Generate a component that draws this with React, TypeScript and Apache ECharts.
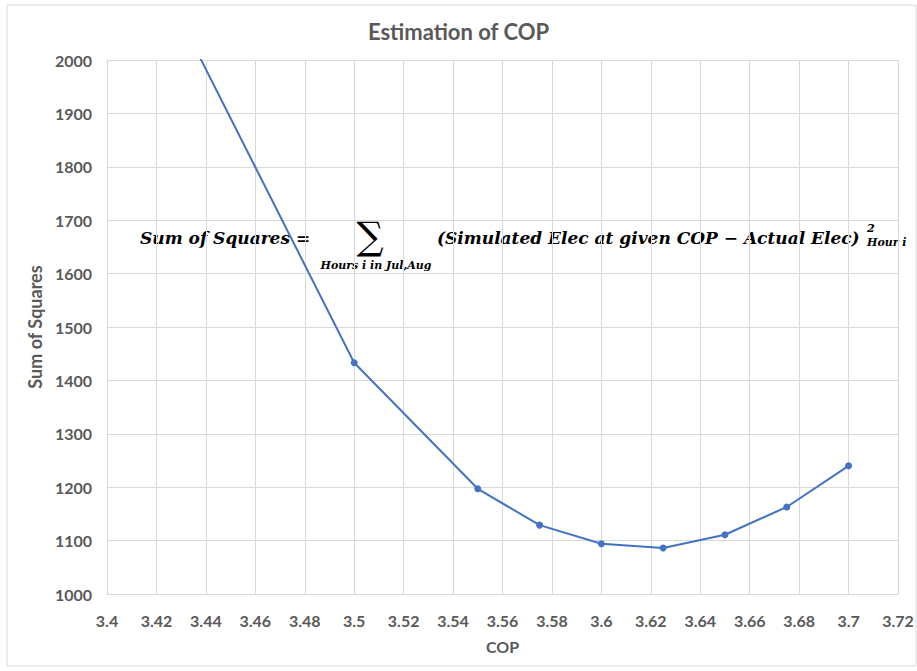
import React, { useEffect, useRef } from "react";
import * as echarts from "echarts";

const copValues = [3.4, 3.5, 3.55, 3.575, 3.6, 3.625, 3.65, 3.675, 3.7];
const sumOfSquares = [2349, 1433, 1197, 1129, 1094, 1086, 1111, 1163, 1240];

const titleText = "Estimation of COP";
const xName = "COP";
const yName = "Sum of Squares";

const GREY = "#595959";
const GRID = "#d9d9d9";
const FONT = "Lato";
const MATH = "DejaVu Serif";

export default function App() {
  const ref = useRef<HTMLDivElement>(null);
  useEffect(() => {
    document.body.style.margin = "0";
    const chart = echarts.init(ref.current!, null, { renderer: "svg" });
    const mathStyle = (text: string, size: number, extra: any = {}) => ({
      text,
      fontFamily: MATH,
      fontSize: size,
      fontWeight: "bold",
      fontStyle: "italic",
      fill: "#000",
      ...extra,
    });
    chart.setOption({
      animation: false,
      backgroundColor: "#fff",
      title: {
        text: titleText,
        left: "center",
        top: 15,
        textStyle: { fontFamily: FONT, fontSize: 22, fontWeight: "bold", color: GREY },
      },
      grid: { left: 107, top: 60, right: 19, bottom: 77, containLabel: false },
      xAxis: {
        type: "value",
        min: 3.4,
        max: 3.72,
        interval: 0.02,
        name: xName,
        nameLocation: "middle",
        nameGap: 44,
        nameTextStyle: { fontFamily: FONT, fontSize: 16, color: GREY, fontWeight: "bold" },
        axisLine: { show: true, lineStyle: { color: GRID } },
        axisTick: { show: false },
        splitLine: { show: true, lineStyle: { color: GRID } },
        axisLabel: {
          margin: 18,
          fontFamily: FONT,
          fontSize: 16,
          fontWeight: "bold",
          color: GREY,
          formatter: (v: number) => String(parseFloat(v.toFixed(2))),
        },
      },
      yAxis: {
        type: "value",
        min: 1000,
        max: 2000,
        interval: 100,
        name: yName,
        nameLocation: "middle",
        nameGap: 62,
        nameTextStyle: { fontFamily: FONT, fontSize: 18, color: GREY, fontWeight: "bold" },
        axisLine: { show: true, lineStyle: { color: GRID } },
        axisTick: { show: false },
        splitLine: { show: true, lineStyle: { color: GRID } },
        axisLabel: {
          margin: 15,
          fontFamily: FONT,
          fontSize: 16,
          fontWeight: "bold",
          color: GREY,
          formatter: (v: number) => String(v),
        },
      },
      series: [
        {
          type: "line",
          data: copValues.map((c, i) => [c, sumOfSquares[i]]),
          clip: true,
          symbol: "circle",
          symbolSize: 7,
          lineStyle: { color: "#4472C4", width: 2 },
          itemStyle: { color: "#4472C4" },
        },
      ],
      graphic: [
        {
          type: "rect",
          silent: true,
          shape: { x: 7, y: 5, width: 909, height: 661 },
          style: { fill: "none", stroke: "#d9d9d9", lineWidth: 1 },
        },
        {
          type: "text",
          x: 140,
          y: 238,
          style: mathStyle("Sum of Squares =", 17, { verticalAlign: "middle" }),
        },
        {
          type: "text",
          x: 370,
          y: 236,
          style: { text: "∑", fontFamily: MATH, fontSize: 38, fill: "#000", align: "center", verticalAlign: "middle" },
        },
        {
          type: "text",
          x: 376,
          y: 265,
          style: mathStyle("Hours i in Jul,Aug", 11, { align: "center", verticalAlign: "middle" }),
        },
        {
          type: "text",
          x: 437,
          y: 238,
          style: mathStyle("(Simulated Elec at given COP − Actual Elec)", 17, { verticalAlign: "middle" }),
        },
        {
          type: "text",
          x: 867,
          y: 235,
          style: mathStyle("2\nHour i", 11, { verticalAlign: "middle", lineHeight: 14 }),
        },
      ],
    });
    return () => chart.dispose();
  }, []);
  return <div ref={ref} style={{ width: 917, height: 671 }} />;
}
